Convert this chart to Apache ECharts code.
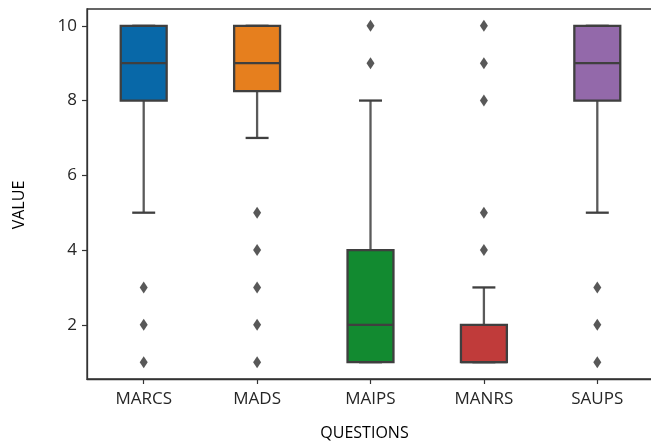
<!DOCTYPE html>
<html>
<head>
<meta charset="utf-8">
<script src="https://cdn.jsdelivr.net/npm/echarts@6/dist/echarts.min.js"></script>
<style>
html,body{margin:0;padding:0;background:#fff;overflow:hidden;}
#chart{width:651px;height:442px;}
</style>
</head>
<body>
<div id="chart"></div>
<script>
var categories = ['MARCS', 'MADS', 'MAIPS', 'MANRS', 'SAUPS'];
var lowWhisker = [5, 7, 1, 1, 5];
var q1 = [8, 8.25, 1, 1, 8];
var median = [9, 9, 2, 1, 9];
var q3 = [10, 10, 4, 2, 10];
var highWhisker = [10, 10, 8, 3, 10];
var outliers = [
  [3, 2, 1],
  [5, 4, 3, 2, 1],
  [10, 9],
  [10, 9, 8, 5, 4],
  [3, 2, 1]
];
var yTicks = [2, 4, 6, 8, 10];
var boxColors = ['#0868a8', '#e67f1e', '#128a30', '#c03b3a', '#9369aa'];

var boxData = categories.map(function (c, i) {
  return [i, lowWhisker[i], q1[i], median[i], q3[i], highWhisker[i]];
});
var outlierData = [];
outliers.forEach(function (arr, i) {
  arr.forEach(function (v) { outlierData.push([i, v]); });
});

var chart = echarts.init(document.getElementById('chart'), null, {renderer: 'canvas'});

function renderBox(params, api) {
  var idx = api.value(0);
  var lo = api.coord([idx, api.value(1)]);
  var b1 = api.coord([idx, api.value(2)]);
  var md = api.coord([idx, api.value(3)]);
  var b3 = api.coord([idx, api.value(4)]);
  var hi = api.coord([idx, api.value(5)]);
  var band = api.size([1, 0])[0];
  var boxW = band * 0.405;
  var capW = boxW * 0.5;
  var x = md[0];
  var whiskerStyle = {stroke: '#5a5a5a', lineWidth: 2.3};
  var darkStyle = {stroke: '#3f3f3f', lineWidth: 2.3};
  return {
    type: 'group',
    children: [
      {type: 'line', shape: {x1: x, y1: b3[1], x2: x, y2: hi[1]}, style: whiskerStyle},
      {type: 'line', shape: {x1: x, y1: b1[1], x2: x, y2: lo[1]}, style: whiskerStyle},
      {type: 'rect', shape: {x: x - boxW / 2, y: b3[1], width: boxW, height: b1[1] - b3[1]},
        style: {fill: boxColors[idx], stroke: '#3f3f3f', lineWidth: 2.3}},
      {type: 'line', shape: {x1: x - capW / 2, y1: hi[1], x2: x + capW / 2, y2: hi[1]}, style: darkStyle},
      {type: 'line', shape: {x1: x - capW / 2, y1: lo[1], x2: x + capW / 2, y2: lo[1]}, style: darkStyle},
      {type: 'line', shape: {x1: x - boxW / 2, y1: md[1], x2: x + boxW / 2, y2: md[1]}, style: darkStyle}
    ]
  };
}

var option = {
  backgroundColor: '#ffffff',
  animation: false,
  grid: {
    left: 87, top: 9, bottom: 63, width: 567,
    containLabel: false,
    outerBoundsMode: 'none',
    show: true, borderColor: '#333', borderWidth: 1.3
  },
  xAxis: {
    type: 'category',
    data: categories,
    name: 'QUESTIONS',
    nameLocation: 'middle',
    nameGap: 46,
    nameTextStyle: {fontFamily: 'Open Sans', fontSize: 16, color: '#000', padding: [0, 12, 0, 0]},
    axisLine: {show: true, lineStyle: {color: '#333', width: 1.3}},
    axisTick: {show: true, alignWithLabel: true, length: 5, lineStyle: {color: '#333', width: 1.2}},
    axisLabel: {fontFamily: 'Open Sans', fontSize: 17, color: '#262626', margin: 12},
    splitLine: {show: false}
  },
  yAxis: {
    type: 'value',
    min: 0.55,
    max: 10.45,
    name: 'VALUE',
    nameLocation: 'middle',
    nameGap: 60,
    nameTextStyle: {fontFamily: 'Open Sans', fontSize: 16, color: '#000', padding: [0, 22, 0, 0]},
    axisLine: {show: true, lineStyle: {color: '#333', width: 1.3}},
    axisTick: {show: true, length: 5, customValues: yTicks, lineStyle: {color: '#333', width: 1.2}},
    axisLabel: {fontFamily: 'Open Sans', fontSize: 17, color: '#262626', margin: 10, customValues: yTicks},
    splitLine: {show: false}
  },
  series: [
    {
      type: 'custom',
      renderItem: renderBox,
      data: boxData,
      encode: {x: 0, y: [1, 2, 3, 4, 5]},
      z: 2
    },
    {
      type: 'scatter',
      data: outlierData,
      symbol: 'diamond',
      symbolSize: [8, 12],
      itemStyle: {color: '#2e2e2e'},
      z: 3
    }
  ]
};
chart.setOption(option);
</script>
</body>
</html>
